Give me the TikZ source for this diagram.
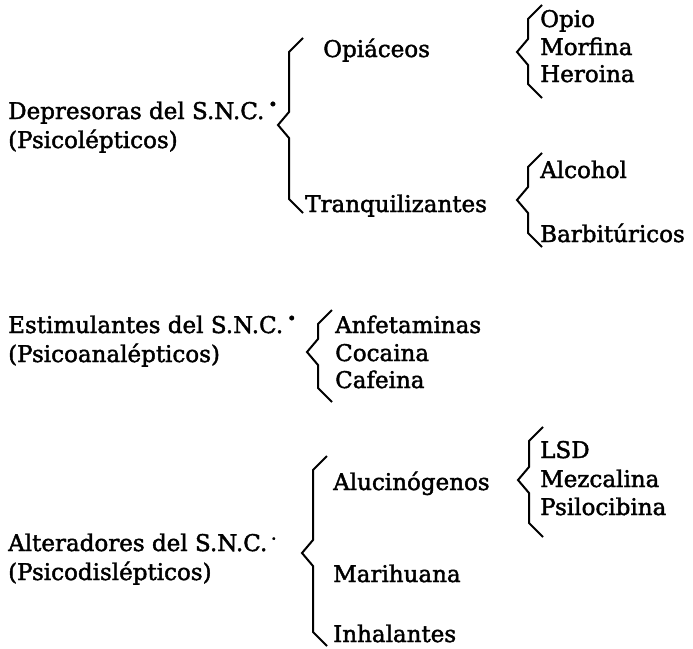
\documentclass[tikz,border=0pt]{standalone}
\usepackage{fontspec}
\setmainfont{DejaVu Serif}[FakeBold=1.8]
\usetikzlibrary{calc}

% brace: top tip (#1t), point (#1p), bottom tip (#1b)
\newcommand{\llave}[1]{%
  \draw[llave] (#1t) -- ($(#1t)+(-14,14)$) -- ($(#1p)+(11,-13)$) -- (#1p)
    -- ($(#1p)+(11,13)$) -- ($(#1b)+(-14,-14)$) -- (#1b);}

\begin{document}
\begin{tikzpicture}[
    x=1pt, y=-1pt,
    % Styles
    item/.style={anchor=base west, inner sep=0pt, font=\fontsize{23}{28}\selectfont},
    llave/.style={line width=2pt, line join=miter}
]
\fill[white] (0,0) rectangle (693,648);
\useasboundingbox (0,0) rectangle (693,648);

% === GROUP 1 (Depresoras) ===
\node (dep) [item] at (8,119) {Depresoras del S.N.C.\,\textsuperscript{•}};
\node (depsub) [item] at (8,148) {(Psicolépticos)};
\node (opiac) [item] at (323,57) {Opiáceos};
\node (tranq) [item] at (305,212) {Tranquilizantes};
\node (opio) [item] at (540,27) {Opio};
\node (morf) [item] at (540,55) {Morfina};
\node (hero) [item] at (540,82) {Heroina};
\node (alco) [item] at (540,178) {Alcohol};
\node (barb) [item] at (540,242) {Barbitúricos};

% === GROUP 2 (Estimulantes) ===
\node (estim) [item] at (8,333) {Estimulantes del S.N.C.\,\textsuperscript{•}};
\node (estimsub) [item] at (8,362) {(Psicoanalépticos)};
\node (anfe) [item] at (335,333) {Anfetaminas};
\node (coca) [item] at (335,361) {Cocaina};
\node (cafe) [item] at (335,388) {Cafeina};

% === GROUP 3 (Alteradores) ===
\node (alter) [item] at (8,551) {Alteradores del S.N.C.\,\textsuperscript{\fontsize{9}{9}\selectfont •}};
\node (altersub) [item] at (8,580) {(Psicodislépticos)};
\node (aluc) [item] at (333,490) {Alucinógenos};
\node (mari) [item] at (333,582) {Marihuana};
\node (inha) [item] at (333,642) {Inhalantes};
\node (lsd) [item] at (540,458) {LSD};
\node (mezc) [item] at (540,487) {Mezcalina};
\node (psilo) [item] at (540,515) {Psilocibina};

% === BRACES ===
\coordinate (b1t) at (303,38);  \coordinate (b1p) at (278,125); \coordinate (b1b) at (303,213);
\coordinate (b2t) at (542,5);   \coordinate (b2p) at (517,52);  \coordinate (b2b) at (542,98);
\coordinate (b3t) at (542,153); \coordinate (b3p) at (517,200); \coordinate (b3b) at (542,247);
\coordinate (b4t) at (332,310); \coordinate (b4p) at (307,352); \coordinate (b4b) at (332,402);
\coordinate (b5t) at (543,427); \coordinate (b5p) at (518,480); \coordinate (b5b) at (543,537);
\coordinate (b6t) at (327,456); \coordinate (b6p) at (302,553); \coordinate (b6b) at (327,646);
\llave{b1}
\llave{b2}
\llave{b3}
\llave{b4}
\llave{b5}
\llave{b6}

\end{tikzpicture}
\end{document}
